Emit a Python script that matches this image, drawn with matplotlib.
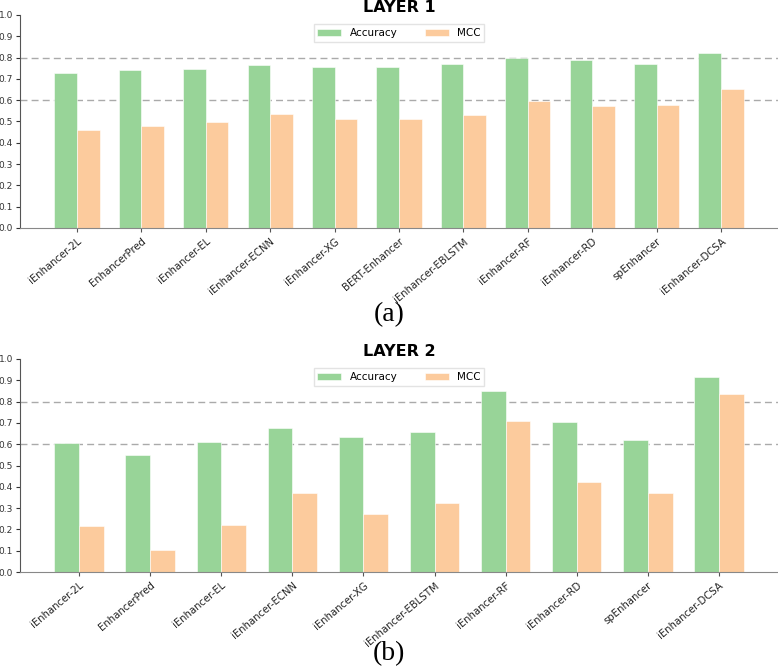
import numpy as np
import matplotlib
matplotlib.use("Agg")
import matplotlib.pyplot as plt

# Layer 1 results
methods_l1 = ["iEnhancer-2L", "EnhancerPred", "iEnhancer-EL", "iEnhancer-ECNN", "iEnhancer-XG",
              "BERT-Enhancer", "iEnhancer-EBLSTM", "iEnhancer-RF", "iEnhancer-RD", "spEnhancer",
              "iEnhancer-DCSA"]
acc_l1 = [0.730, 0.740, 0.748, 0.767, 0.758, 0.756, 0.772, 0.797, 0.788, 0.772, 0.823]
mcc_l1 = [0.459, 0.479, 0.496, 0.536, 0.514, 0.513, 0.531, 0.594, 0.575, 0.578, 0.652]

# Layer 2 results
methods_l2 = ["iEnhancer-2L", "EnhancerPred", "iEnhancer-EL", "iEnhancer-ECNN", "iEnhancer-XG",
              "iEnhancer-EBLSTM", "iEnhancer-RF", "iEnhancer-RD", "spEnhancer", "iEnhancer-DCSA"]
acc_l2 = [0.604, 0.550, 0.608, 0.678, 0.636, 0.658, 0.850, 0.705, 0.620, 0.915]
mcc_l2 = [0.218, 0.102, 0.222, 0.370, 0.272, 0.324, 0.711, 0.424, 0.370, 0.838]

green = "#98d498"
orange = "#fccb9d"
W, H = 778, 666


# Draw one grouped bar panel
def draw_panel(ax, names, acc, mcc, title):
    x = np.arange(len(names))
    w = 0.35
    ax.bar(x - w / 2, acc, w, color=green, edgecolor="white", linewidth=0.4, label="Accuracy")
    ax.bar(x + w / 2, mcc, w, color=orange, edgecolor="white", linewidth=0.4, label="MCC")
    for yv in (0.6, 0.8):
        ax.axhline(yv, color="#aaaaaa", linestyle=(0, (5, 3)), linewidth=1.0, zorder=0)
    ax.set_ylim(0, 1.0)
    ax.set_yticks(np.arange(0, 1.01, 0.1))
    ax.set_yticklabels(["%.1f" % v for v in np.arange(0, 1.01, 0.1)])
    ax.set_xticks(x)
    ax.set_xticklabels(names, rotation=40, ha="right", rotation_mode="anchor", fontsize=7.3)
    ax.tick_params(axis="y", labelsize=6.5, length=3, colors="#333333", pad=2)
    ax.tick_params(axis="x", length=3, colors="#555555", labelcolor="#222222", pad=3)
    ax.spines["top"].set_visible(False)
    ax.spines["right"].set_visible(False)
    ax.spines["left"].set_color("#555555")
    ax.spines["bottom"].set_color("#888888")
    ax.set_title(title, fontsize=11.5, fontweight="bold", pad=2.5)
    ax.legend(loc="upper center", ncol=2, fontsize=7.5, frameon=True, edgecolor="#dddddd",
              fancybox=False, handlelength=2.3, columnspacing=2.6, borderaxespad=0.9,
              borderpad=0.35)


fig = plt.figure(figsize=(W / 100, H / 100), dpi=100)

ax1 = fig.add_axes([20 / W, (H - 228) / H, 758 / W, 213 / H])
draw_panel(ax1, methods_l1, acc_l1, mcc_l1, "LAYER 1")
fig.text(389 / W, 1 - 315 / H, "(a)", ha="center", va="center",
         fontsize=20, family="Liberation Serif")

ax2 = fig.add_axes([20 / W, (H - 572) / H, 758 / W, 213 / H])
draw_panel(ax2, methods_l2, acc_l2, mcc_l2, "LAYER 2")
fig.text(389 / W, 1 - 654 / H, "(b)", ha="center", va="center",
         fontsize=20, family="Liberation Serif")

fig.savefig("out.png", dpi=100)
